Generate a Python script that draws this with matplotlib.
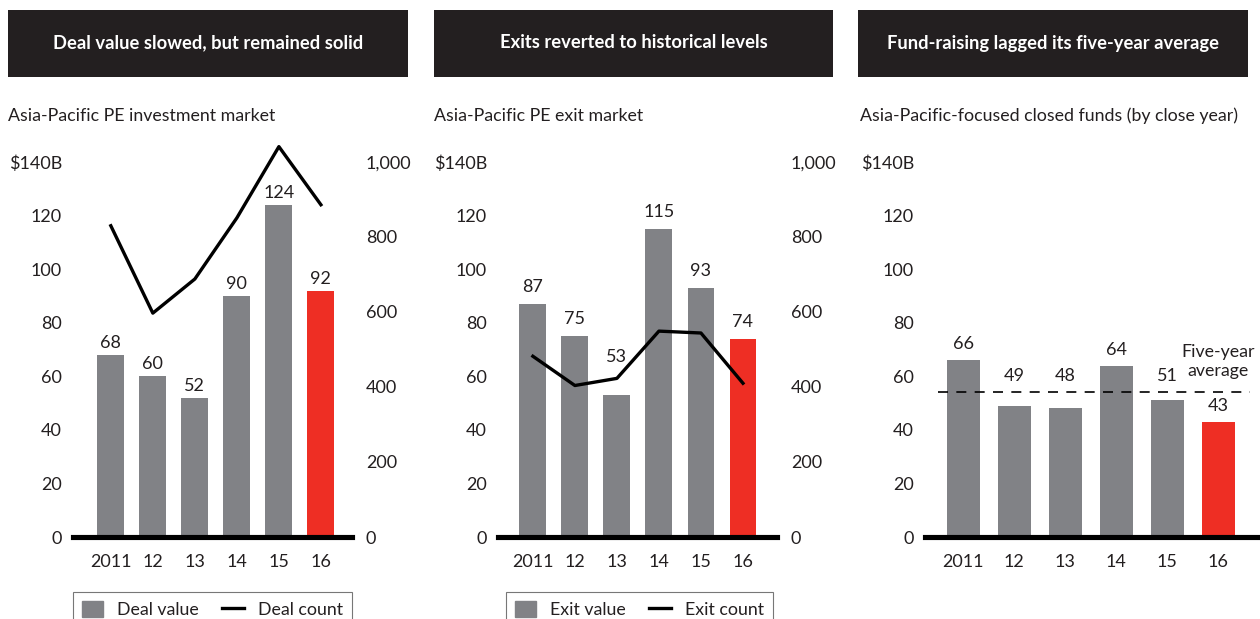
import numpy as np
import matplotlib.pyplot as plt
from matplotlib.patches import Rectangle
from matplotlib.lines import Line2D

plt.rcParams['font.family'] = ['Lato', 'DejaVu Sans']

years = ['2011', '12', '13', '14', '15', '16']
deal_value = [68, 60, 52, 90, 124, 92]
deal_count = [830, 597, 688, 851, 1041, 886]
exit_value = [87, 75, 53, 115, 93, 74]
exit_count = [482, 404, 423, 549, 544, 410]
fund_value = [66, 49, 48, 64, 51, 43]
five_year_avg = 54

headers = ['Deal value slowed, but remained solid',
           'Exits reverted to historical levels',
           'Fund-raising lagged its five-year average']
subtitles = ['Asia-Pacific PE investment market',
             'Asia-Pacific PE exit market',
             'Asia-Pacific-focused closed funds (by close year)']

GRAY = '#818286'
RED = '#ee2e24'
DARK = '#231f20'
W, H = 1260, 619

fig = plt.figure(figsize=(12.6, 6.19), dpi=100)


def px_axes(x0, x1, ytop, ybot):
    return fig.add_axes([x0 / W, (H - ybot) / H, (x1 - x0) / W, (ybot - ytop) / H])


# header boxes and subtitles
boxes = [(8, 408), (434, 833), (858, 1248)]
sub_x = [8, 434, 860]
for (a, b), t, s, sx in zip(boxes, headers, subtitles, sub_x):
    fig.add_artist(Rectangle((a / W, (H - 77) / H), (b - a) / W, 67 / H,
                             transform=fig.transFigure, color=DARK, lw=0))
    fig.text((a + b) / 2 / W, (H - 43) / H, t, color='white', ha='center', va='center',
             fontsize=13.2, fontweight='bold')
    fig.text(sx / W, (H - 116) / H, s, color=DARK, ha='left', va='center', fontsize=12.8)


def style(ax, xlim):
    ax.set_xlim(*xlim)
    ax.set_ylim(0, 140)
    ax.set_yticks(np.arange(0, 141, 20))
    ax.set_yticklabels(['0', '20', '40', '60', '80', '100', '120', '$140B'])
    ax.set_xticks(range(len(years)))
    ax.set_xticklabels(years)
    for sp in ax.spines.values():
        sp.set_visible(False)
    ax.tick_params(axis='both', length=0, labelsize=13, colors=DARK)
    ax.tick_params(axis='y', pad=8)
    ax.tick_params(axis='x', pad=12)
    ax.axhline(0, color='black', lw=3.7, clip_on=False, zorder=5)
    ax.patch.set_alpha(0)


def bars(ax, vals, pad, floor=None, floor_idx=(), lift=None):
    colors = [GRAY] * (len(vals) - 1) + [RED]
    ax.bar(range(len(vals)), vals, width=0.64, color=colors, zorder=2)
    for i, v in enumerate(vals):
        y = max(v, floor) if i in floor_idx else v
        extra = 0 if lift is None else lift.get(i, 0)
        ax.annotate(str(v), (i, y), xytext=(0, pad + extra), textcoords='offset pixels',
                    ha='center', va='bottom', fontsize=13, color=DARK, zorder=4)


def count_axis(ax, counts):
    ax2 = ax.twinx()
    ax2.set_ylim(0, 1000)
    ax2.set_yticks(np.arange(0, 1001, 200))
    ax2.set_yticklabels(['0', '200', '400', '600', '800', '1,000'])
    for sp in ax2.spines.values():
        sp.set_visible(False)
    ax2.tick_params(axis='y', length=0, labelsize=13, colors=DARK, pad=10)
    ax2.plot(range(len(counts)), counts, color='black', lw=2.4, clip_on=False, zorder=3)
    return ax2


def legend(ax, name, x0, w):
    handles = [Rectangle((0, 0), 1, 1, color=GRAY),
               Line2D([0], [0], color='black', lw=2.4)]
    lg = ax.legend(handles, [name + ' value', name + ' count'], ncol=2,
                   loc='upper left', bbox_to_anchor=(x0, -0.147, w, 0.0),
                   mode='expand', borderaxespad=0, fontsize=12.8, frameon=True,
                   fancybox=False, edgecolor='#555555', handlelength=1.2,
                   handleheight=1.0, borderpad=0.5)
    lg.get_frame().set_linewidth(0.8)
    for t in lg.get_texts():
        t.set_color(DARK)


# panel 1
ax1 = px_axes(73, 352, 162, 537)
style(ax1, (-0.9, 5.74))
bars(ax1, deal_value, pad=4)
ax1b = count_axis(ax1, deal_count)
legend(ax1b, 'Deal', 0, 1.0)

# panel 2
ax2 = px_axes(498, 777, 162, 537)
style(ax2, (-0.83, 5.81))
bars(ax2, exit_value, pad=9, lift={2: 21})
ax2b = count_axis(ax2, exit_count)
legend(ax2b, 'Exit', 8 / 279, 267 / 279)

# panel 3
ax3 = px_axes(925, 1260, 162, 537)
style(ax3, (-0.75, 5.82))
bars(ax3, fund_value, pad=8, floor=five_year_avg, floor_idx=(1, 2, 4))
ax3.plot([-0.49, 5.63], [five_year_avg, five_year_avg], color='black', lw=1.2,
         dashes=(6, 5), zorder=3, clip_on=False)
ax3.text(5.0, 59, 'Five-year\naverage', ha='center', va='bottom', fontsize=12.8,
         color=DARK, linespacing=1.2)

fig.savefig('out.png', dpi=100)
